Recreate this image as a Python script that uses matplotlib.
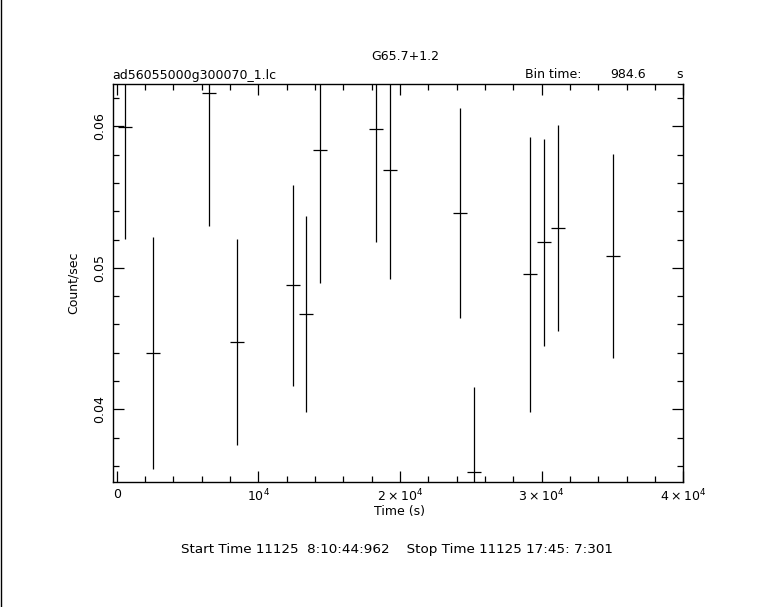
import matplotlib
matplotlib.use("Agg")
import matplotlib.pyplot as plt
from matplotlib.ticker import FixedLocator, MultipleLocator, FixedFormatter
from matplotlib.lines import Line2D

# Data
time_s = [610, 2580, 6535, 8510, 12460, 13380, 14370, 18320, 19310,
          24250, 25240, 29190, 30180, 31160, 35050]
rate = [0.05993, 0.04396, 0.06233, 0.04476, 0.04876, 0.04673, 0.05830, 0.05979,
        0.05691, 0.05387, 0.03557, 0.04954, 0.05180, 0.05281, 0.05081]
rate_err = [0.0079, 0.0082, 0.0094, 0.0073, 0.0071, 0.0069, 0.0094, 0.0080,
            0.0077, 0.0074, 0.0060, 0.0097, 0.0073, 0.0073, 0.0072]
bin_time = 984.6
xtick_vals = [0, 10000, 20000, 30000, 40000]
xtick_labels = ["0", r"$10^4$", r"$2\times10^4$", r"$3\times10^4$", r"$4\times10^4$"]
ytick_vals = [0.04, 0.05, 0.06]
ytick_labels = ["0.04", "0.05", "0.06"]

fig = plt.figure(figsize=(7.66, 6.07), dpi=100)
fig.patch.set_facecolor("white")
ax = fig.add_axes([0.1471, 0.2059, 0.7449, 0.6557])

ax.errorbar(time_s, rate, xerr=bin_time / 2, yerr=rate_err, fmt="none",
            ecolor="black", elinewidth=0.9, capsize=0)

ax.set_xlim(-282, 40000)
ax.set_ylim(0.03486, 0.06299)

ax.xaxis.set_major_locator(FixedLocator(xtick_vals))
ax.xaxis.set_major_formatter(FixedFormatter(xtick_labels))
ax.xaxis.set_minor_locator(MultipleLocator(2000))
ax.yaxis.set_major_locator(FixedLocator(ytick_vals))
ax.yaxis.set_major_formatter(FixedFormatter(ytick_labels))
ax.yaxis.set_minor_locator(MultipleLocator(0.002))

ax.tick_params(which="both", direction="in", top=True, right=True, width=0.9,
               color="black", labelsize=9)
ax.tick_params(which="major", length=8)
ax.tick_params(which="minor", length=4.5)
ax.tick_params(axis="x", pad=4)
ax.tick_params(axis="y", pad=5)
for lab in ax.get_yticklabels():
    lab.set_rotation(90)
    lab.set_va("center")
for sp in ax.spines.values():
    sp.set_linewidth(1.0)

W, H = 766, 607
def ft(px, py, s, size=9, **kw):
    fig.text(px / W, 1 - py / H, s, fontsize=size, **kw)

ft(405, 57, "G65.7+1.2", ha="center", va="center")
ft(112, 75, "ad56055000g300070_1.lc", ha="left", va="center")
ft(525, 75, "Bin time:", ha="left", va="center")
ft(646, 75, "984.6", ha="right", va="center")
ft(683, 75, "s", ha="right", va="center")
ft(399, 512, "Time (s)", ha="center", va="center")
ft(73, 283, "Count/sec", ha="center", va="center", rotation=90)
ft(397, 549, "Start Time 11125  8:10:44:962    Stop Time 11125 17:45: 7:301",
   size=9.7, ha="center", va="center")

fig.add_artist(Line2D([0.5 / W, 0.5 / W], [0, 1], color="black", lw=1.0,
                      transform=fig.transFigure))

fig.savefig("out.png", dpi=100, facecolor="white")
